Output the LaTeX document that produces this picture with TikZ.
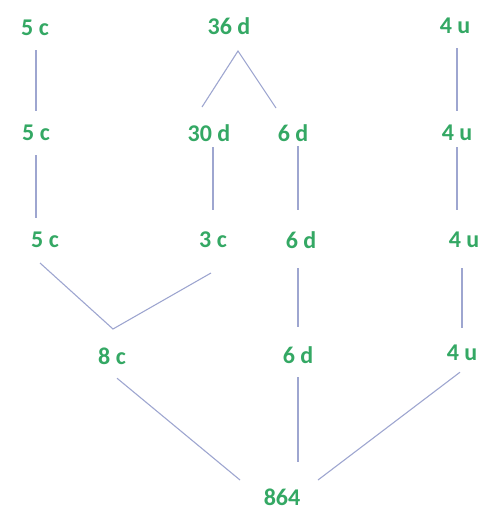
\documentclass[tikz,border=0pt]{standalone}
\usepackage{fontspec}
\setmainfont{Carlito}
\definecolor{numgreen}{RGB}{52,168,100}
\definecolor{linkgrey}{RGB}{158,166,208}

\begin{document}
\begin{tikzpicture}[x=1pt,y=-1pt,
	num/.style={text=numgreen,font=\bfseries\fontsize{24}{24}\selectfont,inner sep=0pt,minimum height=44pt},
	link/.style={draw=linkgrey,line width=1.1pt}]
	\useasboundingbox (0,0) rectangle (498,512);
	\node[num] (c1) at (35,28) {5 c};
	\node[num] (c2) at (36,133) {5 c};
	\node[num] (c3) at (45,240) {5 c};
	\node[num] (d36) at (229,26) {36 d};
	\node[num] (d30) at (209,133) {30 d};
	\node[num] (c3b) at (213,240) {3 c};
	\node[num] (d6a) at (293,133) {6 d};
	\node[num] (d6b) at (301,240) {6 d};
	\node[num] (d6c) at (298,355) {6 d};
	\node[num] (u1) at (455,26) {4 u};
	\node[num] (u2) at (457,133) {4 u};
	\node[num] (u3) at (464,240) {4 u};
	\node[num] (u4) at (462,353) {4 u};
	\node[num] (c8) at (112,356) {8 c};
	\node[num] (n864) at (282,497) {864};
	\coordinate (dtop) at ([xshift=9pt,yshift=-25pt]d36.center);
	\coordinate (cjoin) at ([xshift=1pt,yshift=27pt]c8.center);
	\draw[link] (c1.south -| c2.north) -- (c2.north);
	\draw[link] (c2.south) -- (c2.south |- c3.north);
	\draw[link] ([xshift=-7pt,yshift=26pt]d30.center) -- (dtop) -- ([xshift=-17pt,yshift=25pt]d6a.center);
	\draw[link,shorten <=-8pt,shorten >=8pt] (d30.south -| c3b.north) -- (c3b.north);
	\draw[link,shorten <=-9pt,shorten >=8pt] (d6a.south -| d6c.north) -- (d6b.north -| d6c.north);
	\draw[link] (u1.south -| u2.north) -- (u2.north);
	\draw[link,shorten <=-8pt,shorten >=8pt] (u2.south) -- (u2.south |- u3.north);
	\draw[link] ([xshift=-5pt,yshift=-23pt]c3.center) -- (cjoin) -- ([xshift=-2pt,yshift=-33pt]c3b.center);
	\draw[link,shorten <=6pt,shorten >=6pt] (d6b.south -| d6c.north) -- (d6c.north);
	\draw[link,shorten <=6pt,shorten >=3pt] (u3.south -| u4.north) -- (u4.north);
	\draw[link] ([xshift=5pt]c8.south) -- ([xshift=-42pt,yshift=17pt]n864.center);
	\draw[link,shorten >=13pt] (d6c.south) -- (d6c.south |- n864.north);
	\draw[link] ([xshift=-2pt,yshift=3pt]u4.south) -- ([xshift=36pt,yshift=17pt]n864.center);
\end{tikzpicture}
\end{document}
